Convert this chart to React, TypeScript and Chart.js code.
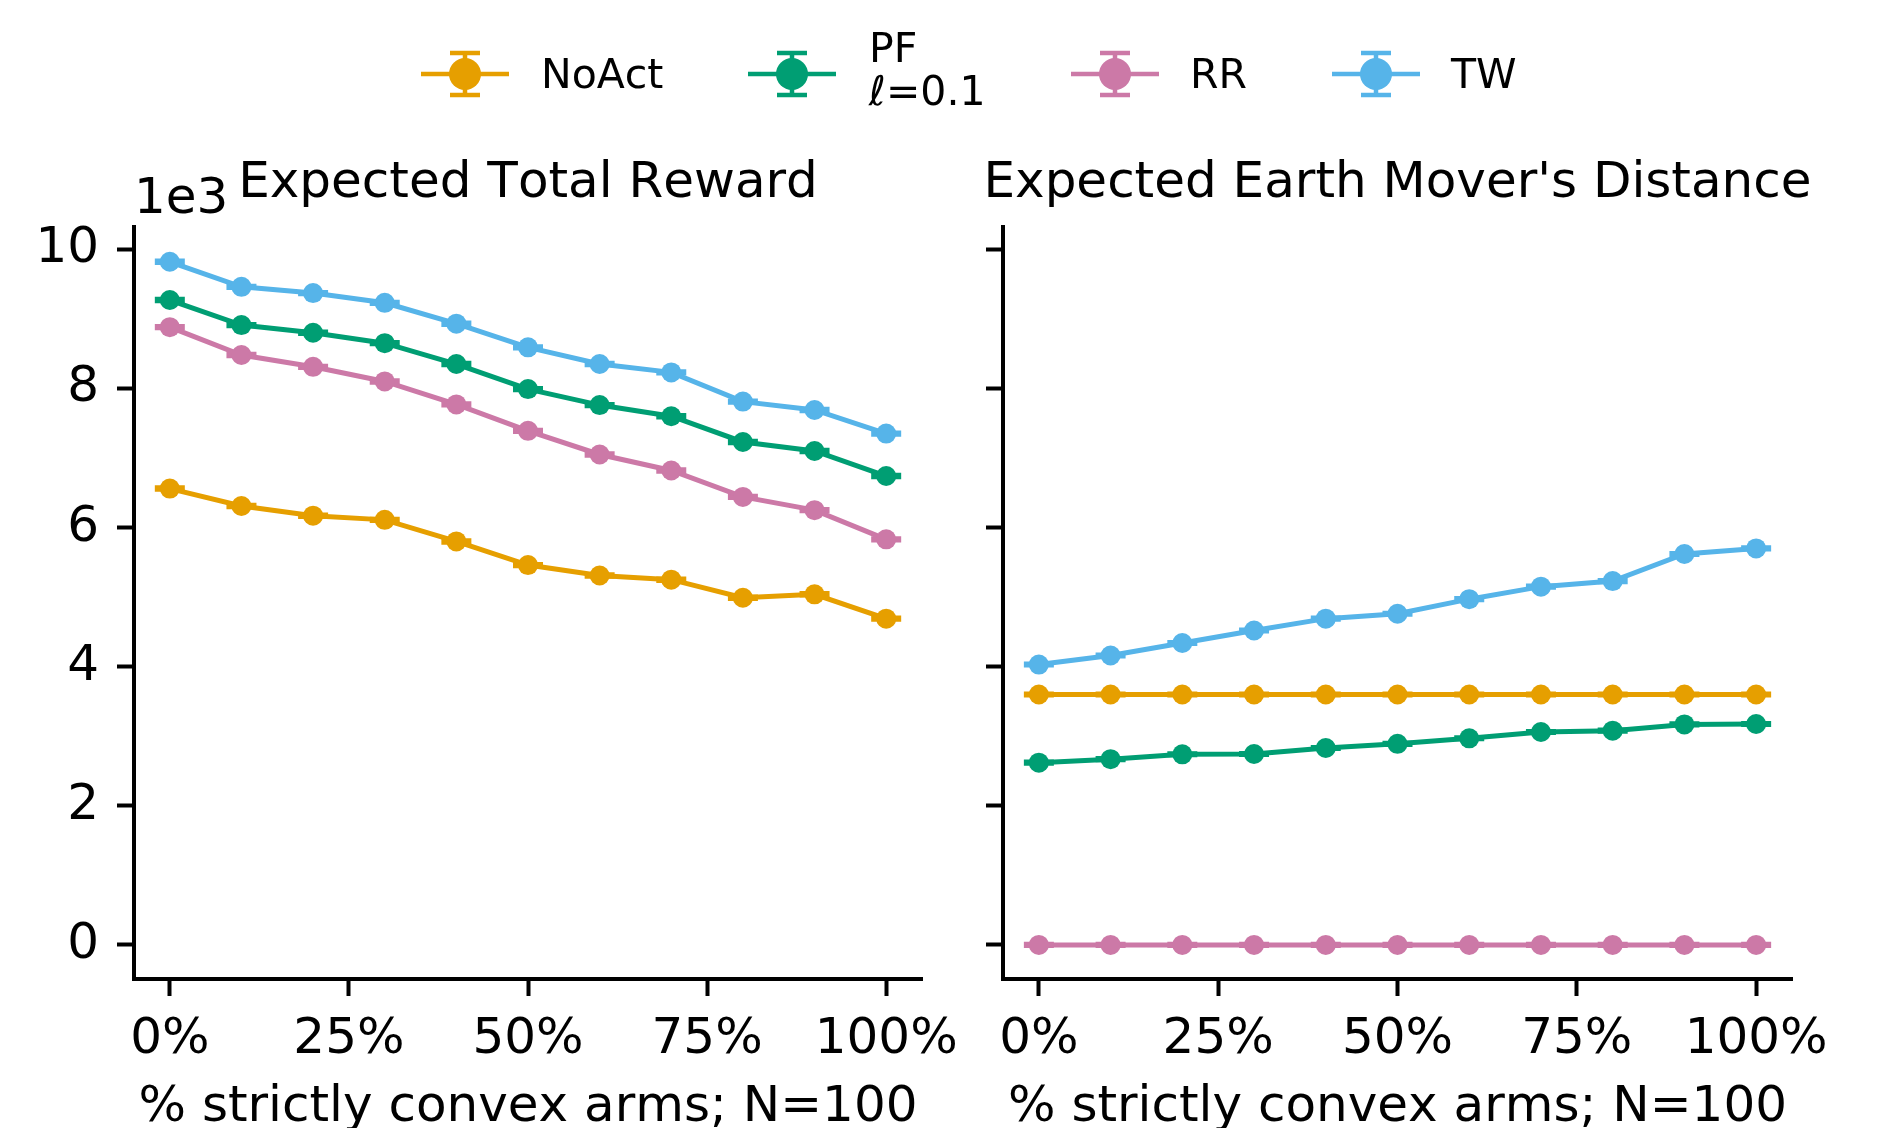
import React, { useEffect, useRef } from "react";
import { Chart, registerables } from "chart.js";

Chart.register(...registerables);

// ---------------- data ----------------
const xPct = [0, 10, 20, 30, 40, 50, 60, 70, 80, 90, 100];
const xTickValues = [0, 25, 50, 75, 100];
const yTickValues = [0, 2000, 4000, 6000, 8000, 10000];

const seriesNames = ["NoAct", "PF", "RR", "TW"];

// Expected Total Reward
const rewardNoAct = [6560, 6310, 6170, 6110, 5800, 5460, 5310, 5250, 4990, 5040, 4690];
const rewardPF = [9270, 8910, 8800, 8650, 8350, 7990, 7760, 7600, 7230, 7100, 6740];
const rewardRR = [8880, 8480, 8310, 8100, 7770, 7390, 7050, 6820, 6440, 6250, 5830];
const rewardTW = [9820, 9460, 9370, 9230, 8930, 8590, 8350, 8230, 7810, 7690, 7350];

// Expected Earth Mover's Distance
const emdNoAct = [3600, 3600, 3600, 3600, 3600, 3600, 3600, 3600, 3600, 3600, 3600];
const emdPF = [2620, 2670, 2740, 2745, 2830, 2890, 2970, 3060, 3080, 3170, 3175];
const emdRR = [0, 0, 0, 0, 0, 0, 0, 0, 0, 0, 0];
const emdTW = [4030, 4160, 4340, 4520, 4690, 4760, 4970, 5150, 5230, 5620, 5700];

// standard errors (tiny, visible only as caps)
const errReward = [10, 10, 10, 10, 10, 10, 10, 10, 10, 10, 10];
const errEmd = [8, 8, 8, 8, 8, 8, 8, 8, 8, 8, 8];

const COLORS: Record<string, string> = {
  NoAct: "#E69F00",
  PF: "#009E73",
  RR: "#CC79A7",
  TW: "#56B4E9",
};

const FONT = "'DejaVu Sans', sans-serif";
const FS = 50;

// ---------------- plugins ----------------
const noKerningPlugin = {
  id: "noKerning",
  beforeDraw(chart: any) {
    try {
      chart.ctx.fontKerning = "none";
    } catch (e) {
      /* ignore */
    }
  },
};

const errorCapPlugin = {
  id: "errorCaps",
  beforeDatasetsDraw(chart: any) {
    const ctx = chart.ctx;
    const xs = chart.scales.x;
    const ys = chart.scales.y;
    const dsets = chart.data.datasets.slice().sort((a: any, b: any) => b.order - a.order);
    dsets.forEach((ds: any) => {
      const errs: number[] = ds.errors || [];
      ctx.save();
      ctx.strokeStyle = ds.borderColor;
      ctx.lineWidth = 5;
      ds.data.forEach((p: any, i: number) => {
        const e = errs[i] || 0;
        const px = xs.getPixelForValue(p.x);
        const lo = ys.getPixelForValue(p.y - e);
        const hi = ys.getPixelForValue(p.y + e);
        ctx.beginPath();
        ctx.moveTo(px, lo);
        ctx.lineTo(px, hi);
        ctx.moveTo(px - 15, lo);
        ctx.lineTo(px + 15, lo);
        ctx.moveTo(px - 15, hi);
        ctx.lineTo(px + 15, hi);
        ctx.stroke();
      });
      ctx.restore();
    });
  },
};

// axes title + offset text ("1e3"), drawn without width compression
const headerTextPlugin = {
  id: "headerText",
  afterDraw(chart: any, _args: any, opts: any) {
    if (!opts) return;
    const ctx = chart.ctx;
    const ca = chart.chartArea;
    ctx.save();
    try {
      ctx.fontKerning = "none";
    } catch (e) {
      /* ignore */
    }
    ctx.fillStyle = "#000";
    ctx.font = `${FS}px ${FONT}`;
    ctx.textBaseline = "alphabetic";
    if (opts.title) {
      ctx.textAlign = "center";
      ctx.fillText(opts.title, (ca.left + ca.right) / 2, opts.titleBaseline);
    }
    if (opts.offsetText) {
      ctx.textAlign = "left";
      ctx.fillText(opts.offsetText, ca.left, opts.offsetBaseline);
    }
    ctx.restore();
  },
};

// ---------------- panel ----------------
type PanelProps = {
  left: number;
  width: number;
  yAxisWidth: number;
  padRight: number;
  title: string;
  values: number[][];
  errors: number[];
  showYLabels: boolean;
  offsetText?: string;
};

const H = 1128;

function Panel(props: PanelProps) {
  const ref = useRef<HTMLCanvasElement | null>(null);

  useEffect(() => {
    const canvas = ref.current;
    if (!canvas) return;
    const tickGrid = {
      drawOnChartArea: false,
      drawTicks: true,
      tickLength: 17,
      tickWidth: 4,
      tickColor: "#000",
    };
    const border = { display: true, color: "#000", width: 4 };
    const orders = [4, 3, 2, 1];
    const chart = new Chart(canvas, {
      type: "line",
      data: {
        datasets: seriesNames.map((name, k) => ({
          label: name,
          data: xPct.map((x, i) => ({ x, y: props.values[k][i] })),
          errors: props.errors,
          order: orders[k],
          borderColor: COLORS[name],
          backgroundColor: COLORS[name],
          pointBackgroundColor: COLORS[name],
          pointBorderColor: COLORS[name],
          borderWidth: 5,
          pointRadius: 10,
          pointHoverRadius: 10,
          pointBorderWidth: 0,
          tension: 0,
          clip: false,
        })) as any,
      },
      options: {
        responsive: false,
        animation: false,
        events: [],
        layout: { padding: { left: 0, right: props.padRight, top: 227, bottom: 0 } },
        plugins: {
          legend: { display: false },
          tooltip: { enabled: false },
          title: { display: false },
          headerText: {
            title: props.title,
            titleBaseline: 197,
            offsetText: props.offsetText || "",
            offsetBaseline: 213,
          },
        } as any,
        scales: {
          x: {
            type: "linear",
            min: -5,
            max: 105,
            afterBuildTicks: (s: any) => {
              s.ticks = xTickValues.map((v) => ({ value: v }));
            },
            afterFit: (s: any) => {
              s.height = H - 979;
            },
            grid: tickGrid,
            border,
            ticks: {
              color: "#000",
              font: { family: FONT, size: FS },
              padding: 14,
              maxRotation: 0,
              autoSkip: false,
              callback: (v: any) => `${v}%`,
            },
            title: {
              display: true,
              text: "% strictly convex arms; N=100",
              color: "#000",
              font: { family: FONT, size: FS, lineHeight: 0.8 },
              padding: { top: 0, bottom: 0 },
            },
          },
          y: {
            type: "linear",
            min: -490,
            max: 10320,
            afterBuildTicks: (s: any) => {
              s.ticks = yTickValues.map((v) => ({ value: v }));
            },
            afterFit: (s: any) => {
              s.width = props.yAxisWidth;
            },
            grid: tickGrid,
            border,
            ticks: {
              color: "#000",
              font: { family: FONT, size: FS },
              padding: 18,
              callback: (v: any) => (props.showYLabels ? String(Number(v) / 1000) : ""),
            },
          },
        } as any,
      },
      plugins: [noKerningPlugin, errorCapPlugin, headerTextPlugin],
    });
    return () => chart.destroy();
  }, []);

  return (
    <canvas
      ref={ref}
      width={props.width}
      height={H}
      style={{ position: "absolute", left: props.left, top: 0, width: props.width, height: H }}
    />
  );
}

// ---------------- legend ----------------
function Handle({ color }: { color: string }) {
  return (
    <svg width={90} height={60} style={{ display: "block" }}>
      <line x1={0} y1={30} x2={88} y2={30} stroke={color} strokeWidth={4.5} />
      <line x1={44} y1={9} x2={44} y2={51} stroke={color} strokeWidth={4.5} />
      <line x1={29} y1={9} x2={59} y2={9} stroke={color} strokeWidth={4.5} />
      <line x1={29} y1={51} x2={59} y2={51} stroke={color} strokeWidth={4.5} />
      <circle cx={44} cy={30} r={16} fill={color} />
    </svg>
  );
}

const legendItems = [
  { name: "NoAct", handleX: 421, textX: 541, lines: ["NoAct"] },
  { name: "PF", handleX: 748, textX: 869, lines: ["PF", "ℓ=0.1"] },
  { name: "RR", handleX: 1071, textX: 1190, lines: ["RR"] },
  { name: "TW", handleX: 1332, textX: 1451, lines: ["TW"] },
];

const LFS = 41;

function LegendText({ x, cy, text }: { x: number; cy: number; text: string }) {
  return (
    <div
      style={{
        position: "absolute",
        left: x,
        top: cy - LFS / 2,
        fontFamily: FONT,
        fontSize: LFS,
        lineHeight: `${LFS}px`,
        color: "#000",
        whiteSpace: "nowrap",
        fontKerning: "none",
      }}
    >
      {text}
    </div>
  );
}

function Legend() {
  const cy = 74;
  return (
    <>
      {legendItems.map((it) => (
        <React.Fragment key={it.name}>
          <div style={{ position: "absolute", left: it.handleX, top: cy - 30 }}>
            <Handle color={COLORS[it.name]} />
          </div>
          {it.lines.length === 1 ? (
            <LegendText x={it.textX} cy={cy} text={it.lines[0]} />
          ) : (
            <>
              <LegendText x={it.textX} cy={48} text={it.lines[0]} />
              <LegendText x={it.textX} cy={91} text={it.lines[1]} />
            </>
          )}
        </React.Fragment>
      ))}
    </>
  );
}

export default function App() {
  return (
    <div
      style={{
        position: "absolute",
        left: 0,
        top: 0,
        width: 1877,
        height: H,
        background: "#fff",
        overflow: "hidden",
      }}
    >
      <Panel
        left={0}
        width={1000}
        yAxisWidth={134}
        padRight={78}
        title="Expected Total Reward"
        values={[rewardNoAct, rewardPF, rewardRR, rewardTW]}
        errors={errReward}
        showYLabels={true}
        offsetText="1e3"
      />
      <Panel
        left={940}
        width={937}
        yAxisWidth={63}
        padRight={85}
        title="Expected Earth Mover's Distance"
        values={[emdNoAct, emdPF, emdRR, emdTW]}
        errors={errEmd}
        showYLabels={false}
      />
      <Legend />
    </div>
  );
}
